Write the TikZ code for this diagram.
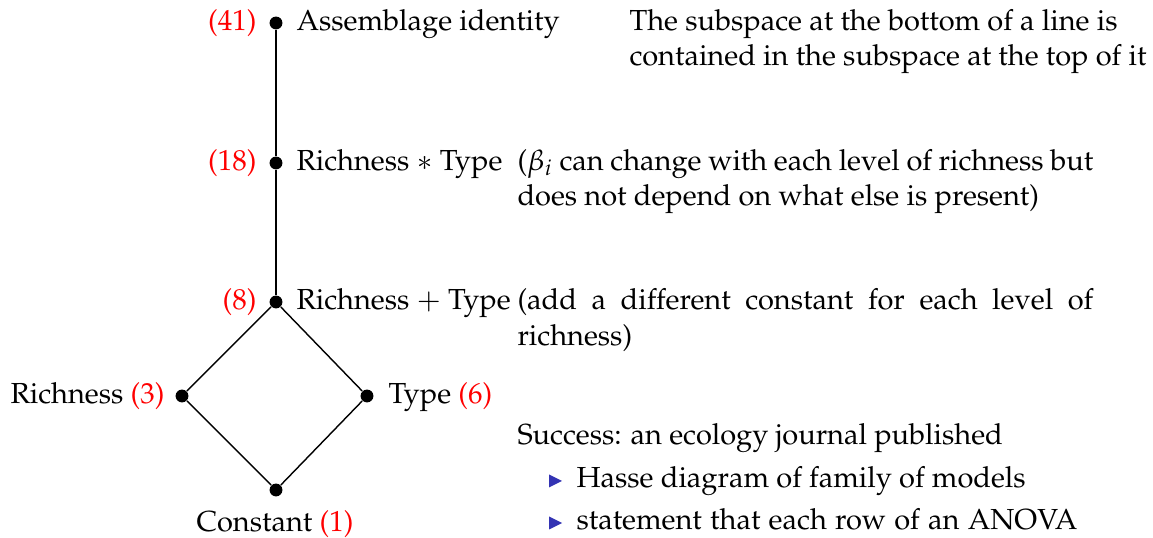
\documentclass[tikz,border=0pt]{standalone}
\usepackage[T1]{fontenc}
\usepackage{mathpazo}
\definecolor{bulletblue}{RGB}{51,51,179}
\definecolor{countred}{RGB}{255,0,0}
\tikzset{
  vert/.style={circle,fill=black,inner sep=0pt,minimum size=5pt},
  edge/.style={line width=0.55pt,black},
  txt/.style={inner sep=0pt,font=\fontsize{11.28}{13.9}\selectfont},
  cnt/.style={txt,text=countred},
  tri/.style={fill=bulletblue}
}
\begin{document}
\begin{tikzpicture}[x=0.389pt,y=-0.389pt]
\useasboundingbox (0,0) rectangle (1153,538);
% vertices of the Hasse diagram
\node[vert] (v41) at (276,23) {};
\node[vert] (v18) at (276,163) {};
\node[vert] (v8)  at (276,302) {};
\node[vert] (v3)  at (182,396) {};
\node[vert] (v6)  at (367,396) {};
\node[vert] (v1)  at (276,490) {};
% edges
\draw[edge] (v41) -- (v18) -- (v8);
\draw[edge] (v8) -- (v3) -- (v1);
\draw[edge] (v8) -- (v6) -- (v1);
% vertex labels
\node[cnt,anchor=mid east] (c41) at (257,24) {(41)};
\node[txt,anchor=mid west] (l41) at (296,24) {Assemblage identity};
\node[cnt,anchor=mid east] (c18) at (257,164) {(18)};
\node[txt,anchor=mid west] (l18) at (296,164) {Richness $*$ Type};
\node[cnt,anchor=mid east] (c8) at (257,303) {(8)};
\node[txt,anchor=mid west] (l8) at (296,303) {Richness $+$ Type};
\node[txt,anchor=mid east] (l3) at (165,397) {Richness \textcolor{countred}{(3)}};
\node[txt,anchor=mid west] (l6) at (388,397) {Type \textcolor{countred}{(6)}};
\node[txt,anchor=mid] (l1) at (275,525) {Constant \textcolor{countred}{(1)}};
% explanatory text
\node[txt,anchor=mid west] (t1a) at (629,24) {The subspace at the bottom of a line is};
\node[txt,anchor=mid west] (t1b) at (629,59) {contained in the subspace at the top of it};
\node[txt,anchor=mid west] (t2a) at (517,164) {\makebox[224pt][s]{($\beta_i$ can change with each level of richness but}};
\node[txt,anchor=mid west] (t2b) at (517,199) {does not depend on what else is present)};
\node[txt,anchor=mid west] (t3a) at (517,303) {\makebox[224pt][s]{(add a different constant for each level of}};
\node[txt,anchor=mid west] (t3b) at (517,339) {richness)};
\node[txt,anchor=mid west] (s0) at (517,438) {Success: an ecology journal published};
\node[txt,anchor=mid west] (s1) at (576,481) {Hasse diagram of family of models};
\node[txt,anchor=mid west] (s2) at (576,523) {\makebox[194.9pt][s]{statement that each row of an ANOVA}};
% item bullets
\fill[tri] (549,474.5) -- (562,481) -- (549,487.5) -- cycle;
\fill[tri] (549,516.5) -- (562,523) -- (549,529.5) -- cycle;
\end{tikzpicture}
\end{document}
